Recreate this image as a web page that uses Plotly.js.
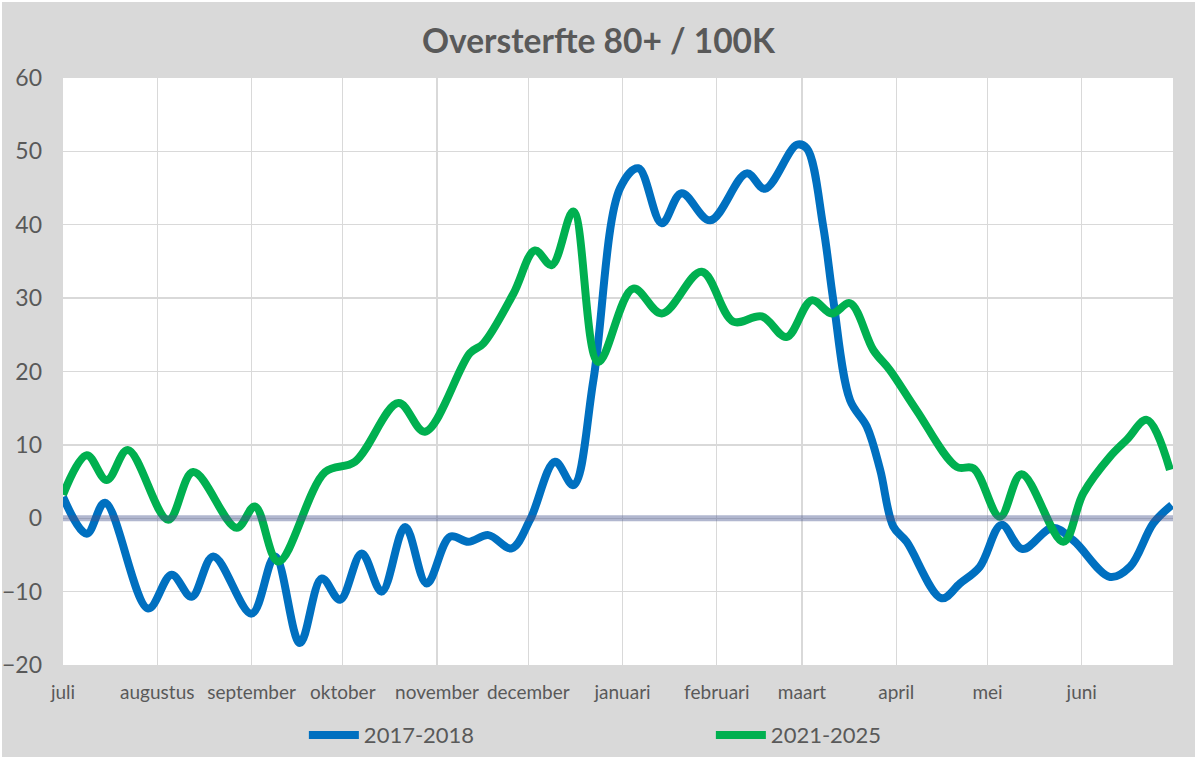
<!DOCTYPE html>
<html>
<head>
<meta charset="utf-8">
<script src="https://cdn.plot.ly/plotly-3.0.1.min.js"></script>
<style>
  html, body { margin: 0; padding: 0; background: #ffffff; }
  #chart { position: absolute; left: 2px; top: 2px; width: 1193px; height: 755px; }
</style>
</head>
<body>
<div id="chart"></div>
<script>
// Month labels and their start day (days since 1 July)
const monthLabels = ["juli", "augustus", "september", "oktober", "november", "december",
                     "januari", "februari", "maart", "april", "mei", "juni"];
const monthStartDays = [0, 31, 62, 92, 123, 153, 184, 215, 243, 274, 304, 335];

// Series 2017-2018 (day since 1 July, excess deaths per 100K, 80+)
const days1718 = [0, 7.8, 13.8, 28.0, 35.7, 42.3, 49.4, 62.0, 69.7, 77.9, 85.1, 91.1, 98.2, 104.8,
                  112.5, 119.6, 127.3, 133.3, 139.9, 147.5, 153.6, 161.8, 167.8, 174.4, 183.2, 189.2,
                  196.9, 203.4, 212.8, 224.8, 230.8, 241.3, 244.6, 250.0, 253.3, 258.8, 264.3, 268.7,
                  273.0, 277.4, 288.9, 294.9, 301.5, 308.6, 315.5, 325.4, 332.2, 344.3, 350.9, 358.5, 364.6];
const vals1718 = [2.9, -2.1, 2.1, -12.3, -7.7, -10.7, -5.2, -13.0, -5.2, -17.0, -8.2, -11.1, -4.8, -10.0,
                  -1.2, -8.9, -2.5, -3.2, -2.3, -4.1, -0.2, 7.7, 4.5, 18.8, 45.0, 47.7,
                  40.2, 44.3, 40.6, 47.0, 44.9, 50.9, 50.4, 39.7, 29.7, 16.1, 12.5, 6.6,
                  -1.1, -3.2, -10.9, -8.9, -6.6, -0.9, -4.2, -1.3, -3.0, -8.0, -6.6, -0.7, 1.8];

// Series 2021-2025
const days2125 = [0, 7.8, 14.4, 21.3, 34.6, 42.8, 57.1, 63.1, 70.8, 86.2, 96.0, 110.3, 119.0,
                  133.8, 138.2, 148.1, 155.2, 160.7, 167.8, 176.0, 187.5, 196.9, 210.0, 220.4,
                  229.8, 237.9, 246.2, 252.8, 258.8, 266.5, 271.9, 280.7, 293.9, 299.4, 308.1,
                  315.2, 328.9, 335.5, 344.3, 349.8, 356.4, 364.0];
const vals2125 = [3.2, 8.6, 5.2, 9.3, -0.2, 6.3, -1.3, 1.6, -5.9, 6.3, 7.7, 15.7, 11.8,
                  22.5, 23.8, 30.6, 36.5, 34.5, 41.8, 21.3, 31.3, 27.9, 33.6, 26.8,
                  27.5, 24.7, 29.7, 27.9, 29.3, 22.9, 20.2, 14.7, 7.0, 6.8, 0.2,
                  6.0, -3.2, 3.4, 8.4, 10.7, 13.4, 6.6];

const seriesNames = ["2017-2018", "2021-2025"];
const yTicks = [-20, -10, 0, 10, 20, 30, 40, 50, 60];

const textColor = "#595959";
const gridColor = "#d9d9d9";

const traces = [
  {
    x: days1718, y: vals1718, name: seriesNames[0], type: "scatter", mode: "lines",
    line: { color: "#0070c0", width: 8, shape: "spline", smoothing: 1 },
    hoverinfo: "skip"
  },
  {
    x: days2125, y: vals2125, name: seriesNames[1], type: "scatter", mode: "lines",
    line: { color: "#00b050", width: 8, shape: "spline", smoothing: 1 },
    hoverinfo: "skip"
  }
];

const layout = {
  width: 1193, height: 755,
  paper_bgcolor: "#d9d9d9",
  plot_bgcolor: "#ffffff",
  margin: { l: 61, r: 22, t: 76, b: 92, pad: 0, autoexpand: false },
  font: { family: "Lato, 'Open Sans', sans-serif", color: textColor },
  title: {
    text: "<b>Oversterfte 80+ / 100K</b>",
    font: { family: "Lato, 'Open Sans', sans-serif", size: 33.5, color: textColor },
    x: 0.5, xanchor: "center", xref: "container",
    y: 0.948, yanchor: "middle", yref: "container"
  },
  xaxis: {
    range: [0, 365],
    tickmode: "array", tickvals: monthStartDays, ticktext: monthLabels,
    showgrid: true, gridcolor: gridColor, gridwidth: 1.3,
    zeroline: false, showline: false, ticks: "",
    tickfont: { size: 19, color: textColor },
    ticklabelstandoff: 14,
    automargin: false,
    fixedrange: true
  },
  yaxis: {
    range: [-20, 60],
    tickmode: "array", tickvals: yTicks,
    showgrid: true, gridcolor: gridColor, gridwidth: 1.3,
    zeroline: false, showline: false, ticks: "",
    tickfont: { size: 23, color: textColor },
    ticklabelstandoff: 20,
    automargin: false,
    fixedrange: true
  },
  shapes: [
    {
      type: "line", xref: "x", yref: "y", x0: 0, x1: 365, y0: 0, y1: 0,
      line: { color: "rgba(68,84,140,0.42)", width: 6 }, layer: "above"
    }
  ],
  showlegend: true,
  legend: {
    orientation: "h",
    x: 0.217, xanchor: "left",
    yref: "container", y: 0.029, yanchor: "middle",
    bgcolor: "rgba(0,0,0,0)",
    font: { size: 22, color: textColor },
    itemwidth: 50,
    entrywidth: 342, entrywidthmode: "pixels"
  }
};

Plotly.newPlot("chart", traces, layout, { displayModeBar: false, staticPlot: true });
</script>
</body>
</html>
